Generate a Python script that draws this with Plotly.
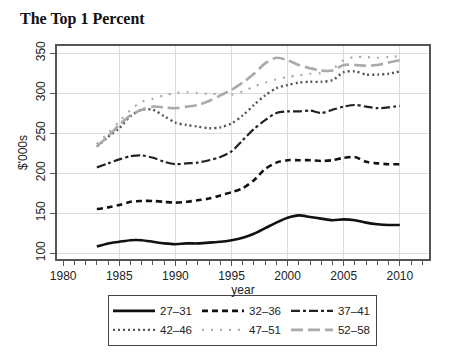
import plotly.graph_objects as go

years = list(range(1983, 2011))
names = ["27\u201331", "32\u201336", "37\u201341", "42\u201346", "47\u201351", "52\u201358"]

s27_31 = [108, 112, 114, 116, 116, 114, 112, 111, 112, 112, 113, 114, 116, 119, 124, 131,
          138, 144, 147, 145, 143, 141, 142, 141, 138, 136, 135, 135]
s32_36 = [155, 157, 160, 164, 165, 165, 164, 163, 164, 166, 168, 172, 176, 181, 191, 205,
          213, 216, 216, 216, 215, 216, 219, 220, 214, 212, 211, 211]
s37_41 = [207, 212, 217, 221, 222, 219, 214, 211, 212, 213, 216, 220, 227, 241, 255, 266,
          275, 277, 277, 278, 275, 279, 283, 285, 283, 281, 282, 284]
s42_46 = [233, 245, 256, 271, 279, 279, 271, 263, 260, 258, 256, 257, 262, 272, 285, 297,
          306, 310, 313, 314, 314, 316, 326, 327, 323, 323, 324, 327]
s47_51 = [236, 250, 264, 279, 289, 293, 297, 300, 301, 300, 299, 299, 298, 302, 308, 313,
          317, 320, 322, 324, 325, 330, 341, 345, 345, 344, 345, 346]
s52_58 = [233, 246, 260, 272, 279, 283, 282, 281, 283, 285, 290, 297, 304, 313, 324, 337,
          344, 341, 335, 331, 328, 328, 335, 335, 334, 335, 338, 341]

series = [s27_31, s32_36, s37_41, s42_46, s47_51, s52_58]
styles = [
    dict(color="#111111", width=2.6, dash="solid"),
    dict(color="#111111", width=2.6, dash="6px,4px"),
    dict(color="#222222", width=2.2, dash="dashdot"),
    dict(color="#555555", width=2.4, dash="2px,3px"),
    dict(color="#aaaaaa", width=2.2, dash="2px,7px"),
    dict(color="#aaaaaa", width=2.6, dash="12px,5px"),
]
legend_cols = ["c1", "c2", "c3", "c1", "c2", "c3"]

fig = go.Figure()
# invisible trace to activate the grid-only overlay axis
fig.add_trace(go.Scatter(x=[1985], y=[100], xaxis="x2", mode="markers",
                         marker=dict(opacity=0), showlegend=False, hoverinfo="skip"))
for nm, vals, st, grp in zip(names, series, styles, legend_cols):
    fig.add_trace(go.Scatter(x=years, y=vals, name=nm, mode="lines", legendgroup=grp,
                             line=dict(shape="spline", smoothing=0.8, **st)))

axis_font = dict(family="Liberation Sans, Arial, sans-serif", size=12, color="#222222")

# page body has an 8px margin, so the figure is 8px smaller and offset
W, H = 451, 355
fig.update_layout(
    width=W, height=H,
    margin=dict(l=49, r=30, t=38, b=104, autoexpand=False),
    paper_bgcolor="white", plot_bgcolor="white",
    title=dict(text="<b>The Top 1 Percent</b>", x=12 / W, xanchor="left",
               y=1 - 10 / H, yanchor="middle",
               font=dict(family="Liberation Serif, DejaVu Serif, serif", size=16, color="#111111")),
    font=axis_font,
    showlegend=True,
    legend=dict(orientation="h", x=(242.5 - 57) / 372, xanchor="center", y=-0.17, yanchor="top",
                traceorder="grouped", tracegroupgap=14,
                bordercolor="#444444", borderwidth=1.2, bgcolor="white",
                itemwidth=42,
                font=dict(family="Liberation Sans, Arial, sans-serif", size=11.5, color="#222222")),
    xaxis=dict(range=[1979.45, 2012.6], tickmode="array",
               tickvals=[1980, 1985, 1990, 1995, 2000, 2005, 2010],
               showgrid=False, zeroline=False,
               showline=True, linecolor="#555555", linewidth=1.5, mirror=True,
               ticks="outside", ticklen=5, tickcolor="#555555",
               minor=dict(dtick=1, tick0=1980, ticks="outside", ticklen=4, tickcolor="#555555", showgrid=False),
               title=dict(text="year", standoff=0, font=axis_font), tickfont=axis_font),
    xaxis2=dict(range=[1979.45, 2012.6], overlaying="x", tickmode="array",
                tickvals=[1985, 1990, 1995, 2000, 2005, 2010],
                showgrid=True, gridcolor="#dcdcdc", gridwidth=1, showticklabels=False,
                zeroline=False, showline=False, ticks=""),
    yaxis=dict(range=[92.5, 358.75], tickvals=[100, 150, 200, 250, 300, 350],
               showgrid=True, gridcolor="#dcdcdc", gridwidth=1, zeroline=False,
               showline=True, linecolor="#555555", linewidth=1.5, mirror=True,
               ticks="outside", ticklen=5, tickcolor="#555555", tickangle=-90,
               title=dict(text="$'000s", standoff=4, font=axis_font), tickfont=axis_font),
)

fig.write_html("out.html")
